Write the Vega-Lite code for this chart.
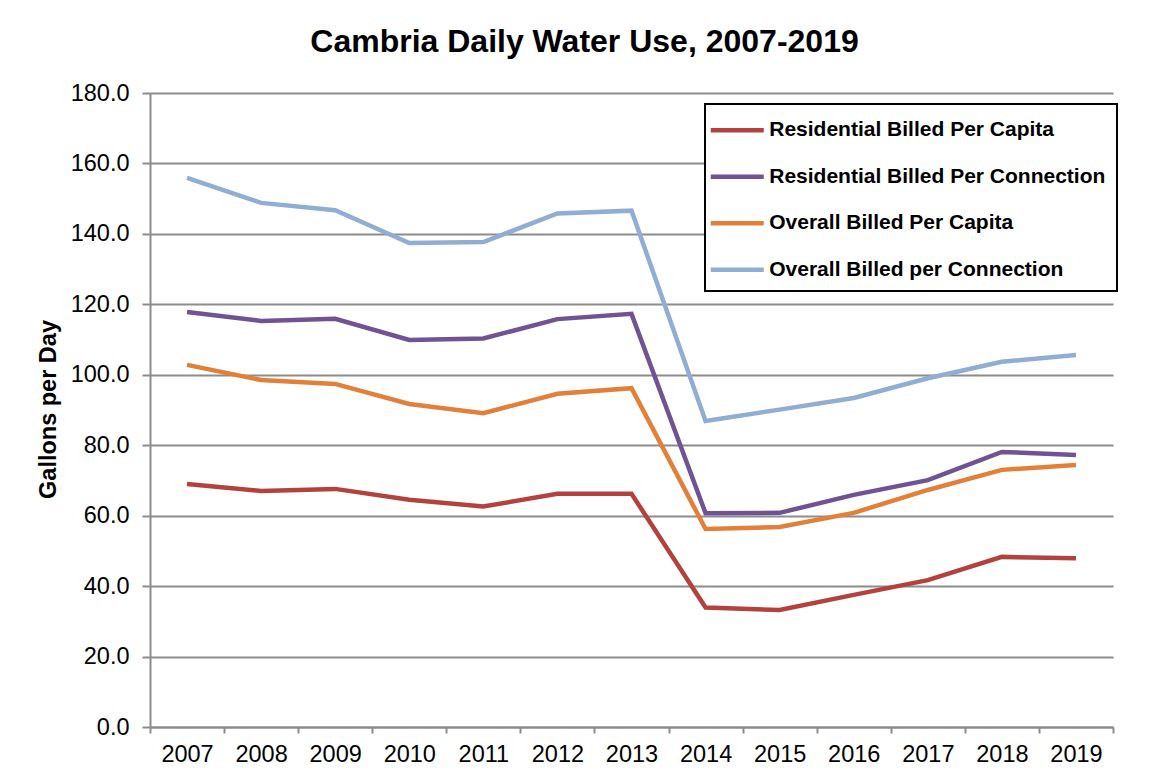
{
  "$schema": "https://vega.github.io/schema/vega-lite/v6.json",
  "width": 963,
  "height": 634,
  "autosize": {"type": "none"},
  "padding": {"left": 150, "top": 93, "right": 41, "bottom": 44},
  "background": "white",
  "config": {
    "font": "Liberation Sans",
    "view": {"stroke": null}
  },
  "title": {
    "text": "Cambria Daily Water Use, 2007-2019",
    "font": "Liberation Sans",
    "fontSize": 32,
    "fontWeight": "bold",
    "color": "black",
    "anchor": "middle",
    "dx": -47,
    "offset": 22
  },
  "data": {
    "values": [
      {"year": "2007", "series": "Residential Billed Per Capita", "value": 69.0},
      {"year": "2008", "series": "Residential Billed Per Capita", "value": 67.0},
      {"year": "2009", "series": "Residential Billed Per Capita", "value": 67.6},
      {"year": "2010", "series": "Residential Billed Per Capita", "value": 64.5},
      {"year": "2011", "series": "Residential Billed Per Capita", "value": 62.6},
      {"year": "2012", "series": "Residential Billed Per Capita", "value": 66.2},
      {"year": "2013", "series": "Residential Billed Per Capita", "value": 66.2},
      {"year": "2014", "series": "Residential Billed Per Capita", "value": 33.9},
      {"year": "2015", "series": "Residential Billed Per Capita", "value": 33.2},
      {"year": "2016", "series": "Residential Billed Per Capita", "value": 37.5},
      {"year": "2017", "series": "Residential Billed Per Capita", "value": 41.7},
      {"year": "2018", "series": "Residential Billed Per Capita", "value": 48.3},
      {"year": "2019", "series": "Residential Billed Per Capita", "value": 47.9},
      {"year": "2007", "series": "Residential Billed Per Connection", "value": 117.8},
      {"year": "2008", "series": "Residential Billed Per Connection", "value": 115.3},
      {"year": "2009", "series": "Residential Billed Per Connection", "value": 115.9},
      {"year": "2010", "series": "Residential Billed Per Connection", "value": 109.9},
      {"year": "2011", "series": "Residential Billed Per Connection", "value": 110.3},
      {"year": "2012", "series": "Residential Billed Per Connection", "value": 115.8},
      {"year": "2013", "series": "Residential Billed Per Connection", "value": 117.3},
      {"year": "2014", "series": "Residential Billed Per Connection", "value": 60.7},
      {"year": "2015", "series": "Residential Billed Per Connection", "value": 60.8},
      {"year": "2016", "series": "Residential Billed Per Connection", "value": 65.9},
      {"year": "2017", "series": "Residential Billed Per Connection", "value": 70.1},
      {"year": "2018", "series": "Residential Billed Per Connection", "value": 78.1},
      {"year": "2019", "series": "Residential Billed Per Connection", "value": 77.2},
      {"year": "2007", "series": "Overall Billed Per Capita", "value": 102.8},
      {"year": "2008", "series": "Overall Billed Per Capita", "value": 98.5},
      {"year": "2009", "series": "Overall Billed Per Capita", "value": 97.4},
      {"year": "2010", "series": "Overall Billed Per Capita", "value": 91.7},
      {"year": "2011", "series": "Overall Billed Per Capita", "value": 89.1},
      {"year": "2012", "series": "Overall Billed Per Capita", "value": 94.6},
      {"year": "2013", "series": "Overall Billed Per Capita", "value": 96.2},
      {"year": "2014", "series": "Overall Billed Per Capita", "value": 56.2},
      {"year": "2015", "series": "Overall Billed Per Capita", "value": 56.8},
      {"year": "2016", "series": "Overall Billed Per Capita", "value": 60.8},
      {"year": "2017", "series": "Overall Billed Per Capita", "value": 67.3},
      {"year": "2018", "series": "Overall Billed Per Capita", "value": 73.0},
      {"year": "2019", "series": "Overall Billed Per Capita", "value": 74.4},
      {"year": "2007", "series": "Overall Billed per Connection", "value": 155.9},
      {"year": "2008", "series": "Overall Billed per Connection", "value": 148.8},
      {"year": "2009", "series": "Overall Billed per Connection", "value": 146.7},
      {"year": "2010", "series": "Overall Billed per Connection", "value": 137.4},
      {"year": "2011", "series": "Overall Billed per Connection", "value": 137.7},
      {"year": "2012", "series": "Overall Billed per Connection", "value": 145.8},
      {"year": "2013", "series": "Overall Billed per Connection", "value": 146.6},
      {"year": "2014", "series": "Overall Billed per Connection", "value": 86.9},
      {"year": "2015", "series": "Overall Billed per Connection", "value": 90.1},
      {"year": "2016", "series": "Overall Billed per Connection", "value": 93.4},
      {"year": "2017", "series": "Overall Billed per Connection", "value": 99.0},
      {"year": "2018", "series": "Overall Billed per Connection", "value": 103.7},
      {"year": "2019", "series": "Overall Billed per Connection", "value": 105.6}
    ]
  },
  "mark": {"type": "line", "strokeWidth": 4.5, "strokeJoin": "miter", "strokeCap": "butt"},
  "encoding": {
    "x": {
      "field": "year",
      "type": "ordinal",
      "bandPosition": 0.5,
      "scale": {"type": "band", "paddingInner": 0, "paddingOuter": 0},
      "axis": {
        "title": null,
        "labelAngle": 0,
        "labelFontSize": 23.5,
        "labelColor": "black",
        "labelPadding": 9,
        "tickBand": "extent",
        "tickSize": 6,
        "tickColor": "#8c8c8c",
        "tickWidth": 2,
        "domainColor": "#8c8c8c",
        "domainWidth": 2,
        "grid": false
      }
    },
    "y": {
      "field": "value",
      "type": "quantitative",
      "scale": {"domain": [0, 180], "nice": false, "zero": true},
      "axis": {
        "title": "Gallons per Day",
        "titleFontSize": 23.5,
        "titleFontWeight": "bold",
        "titleColor": "black",
        "titleAngle": -90,
        "titleX": -102,
        "titleY": 316,
        "titleAlign": "center",
        "titleBaseline": "middle",
        "values": [0, 20, 40, 60, 80, 100, 120, 140, 160, 180],
        "format": ".1f",
        "labelFontSize": 23.5,
        "labelColor": "black",
        "labelPadding": 13,
        "tickSize": 8,
        "tickColor": "#8c8c8c",
        "tickWidth": 2,
        "domainColor": "#8c8c8c",
        "domainWidth": 2,
        "gridColor": "#8c8c8c",
        "gridWidth": 2
      }
    },
    "color": {
      "field": "series",
      "type": "nominal",
      "sort": null,
      "scale": {
        "domain": ["Residential Billed Per Capita", "Residential Billed Per Connection", "Overall Billed Per Capita", "Overall Billed per Connection"],
        "range": ["#B3423F", "#6F5392", "#E2803A", "#92ADD3"]
      },
      "legend": {
        "title": null,
        "orient": "none",
        "legendX": 555,
        "legendY": 11,
        "strokeColor": "black",
        "fillColor": "white",
        "padding": 10.75,
        "symbolType": "M-2,0H2",
        "symbolSize": 702,
        "symbolStrokeWidth": 4.5,
        "symbolOffset": 6,
        "labelFontSize": 21,
        "labelFontWeight": "bold",
        "labelColor": "black",
        "labelOffset": 16.5,
        "labelLimit": 500,
        "rowPadding": 20.5,
        "encode": {"legend": {"update": {"strokeWidth": {"value": 2}}}}
      }
    }
  }
}
